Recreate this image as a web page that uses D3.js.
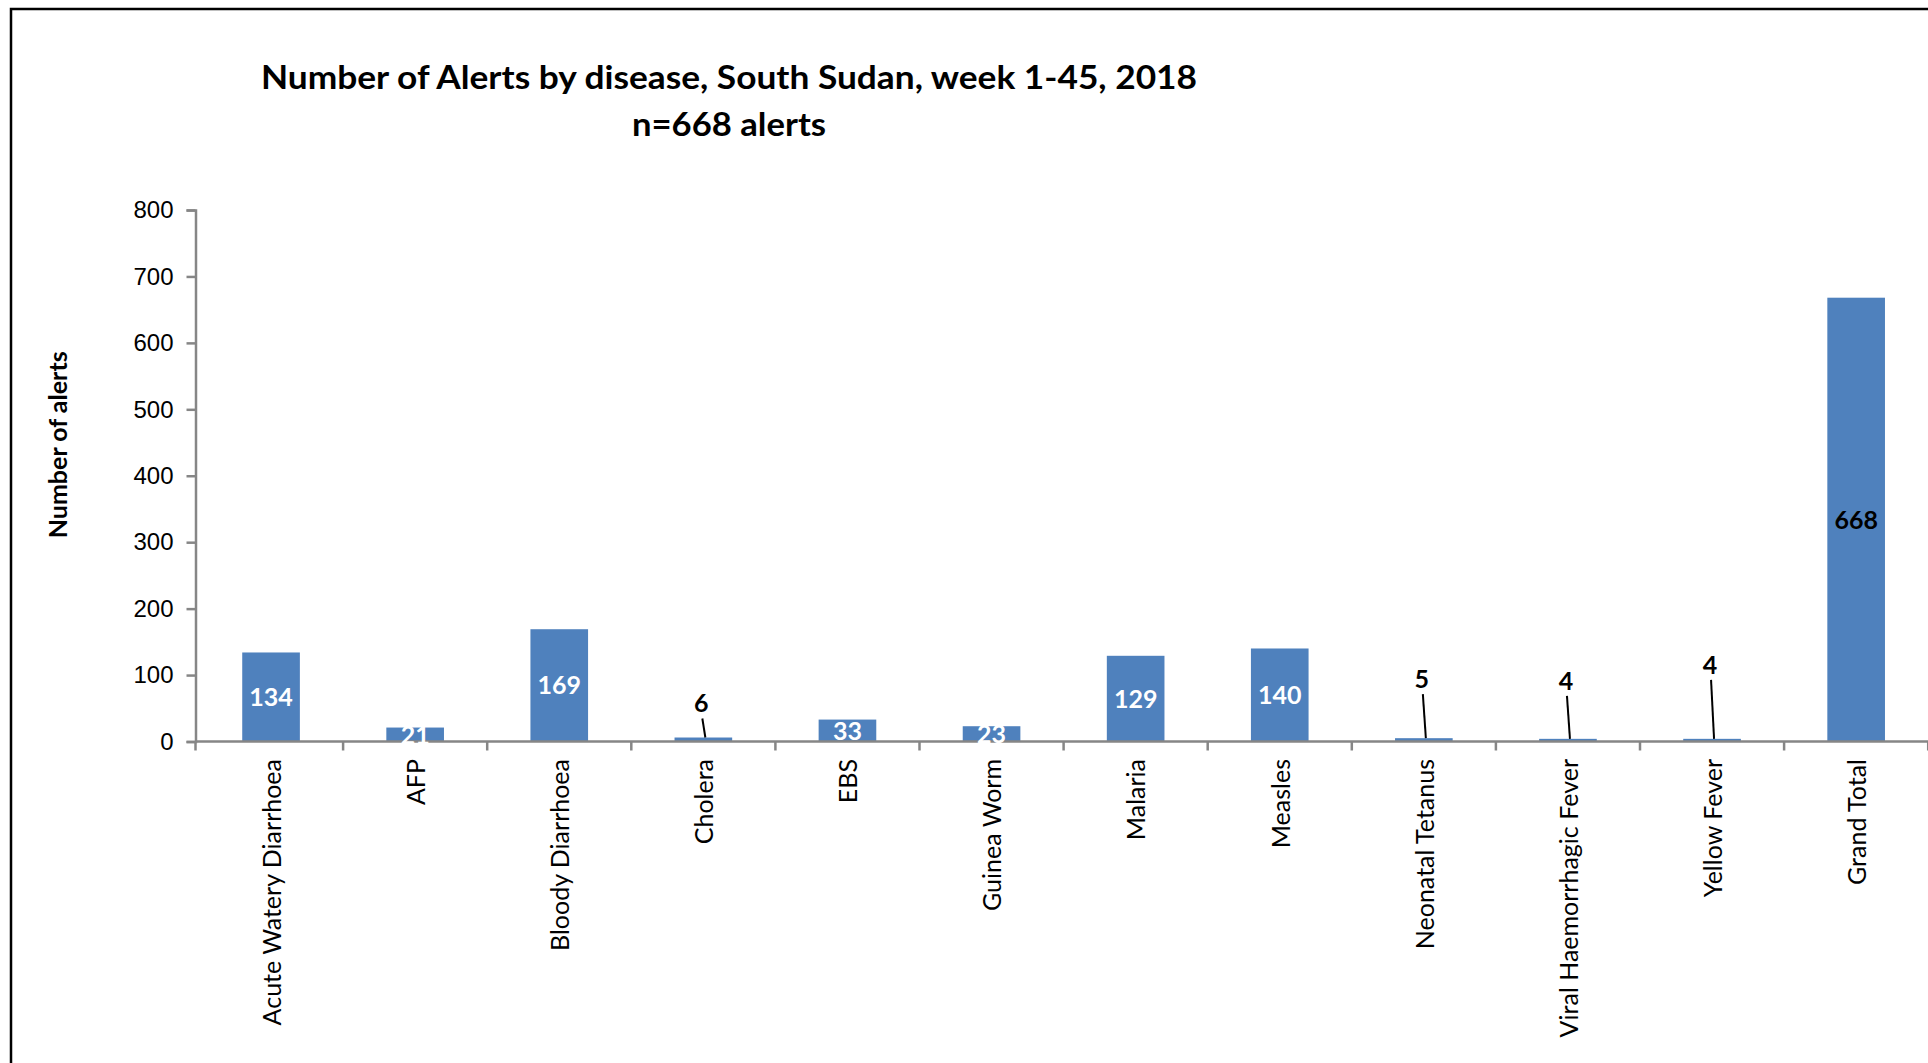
<!DOCTYPE html>
<html lang="en">
<head>
    <meta charset="UTF-8">
    <title>Number of Alerts by disease, South Sudan</title>
    <script src="https://d3js.org/d3.v7.min.js"></script>
    <style>
        body { margin: 0; background: #fff; }
        svg { display: block; font-family: Lato, "Open Sans", sans-serif; }
        .title { font-weight: bold; font-size: 32px; fill: #000; }
        .axis-label { font-weight: bold; font-size: 25px; }
        .y-tick { font-size: 24px; fill: #000; }
        .cat-label { font-size: 25px; fill: #000; }
        .value { font-weight: bold; font-size: 25px; }
    </style>
</head>
<body>
    <div id="chart"></div>

    <script>
        // Data
        const categories = [
            'Acute Watery Diarrhoea', 'AFP', 'Bloody Diarrhoea', 'Cholera', 'EBS',
            'Guinea Worm', 'Malaria', 'Measles', 'Neonatal Tetanus',
            'Viral Haemorrhagic Fever', 'Yellow Fever', 'Grand Total'
        ];
        const alerts = [134, 21, 169, 6, 33, 23, 129, 140, 5, 4, 4, 668];
        const yTicks = [0, 100, 200, 300, 400, 500, 600, 700, 800];
        const titleLines = ['Number of Alerts by disease, South Sudan, week 1-45, 2018', 'n=668 alerts'];
        const yLabel = 'Number of alerts';

        // small values get their label lifted above the bar, with a leader line (px)
        const calloutRise = {
            'Cholera': 34,
            'Neonatal Tetanus': 59,
            'Viral Haemorrhagic Fever': 58,
            'Yellow Fever': 74
        };

        const W = 1928, H = 1063;
        const plot = { left: 195.5, bandStart: 199, right: 1928.2, top: 210, bottom: 741.5 };

        const svg = d3.select('#chart').append('svg')
            .attr('width', W)
            .attr('height', H);

        // outer frame (only top and left edges are visible)
        svg.append('path')
            .attr('d', `M11,${H} V9 H${W}`)
            .attr('fill', 'none')
            .attr('stroke', '#000')
            .attr('stroke-width', 2.5);

        // title
        svg.append('text')
            .attr('class', 'title')
            .attr('x', 729).attr('y', 89)
            .attr('text-anchor', 'middle')
            .attr('textLength', 936)
            .attr('lengthAdjust', 'spacingAndGlyphs')
            .text(titleLines[0]);
        svg.append('text')
            .attr('class', 'title')
            .attr('x', 729).attr('y', 136)
            .attr('text-anchor', 'middle')
            .attr('textLength', 194)
            .attr('lengthAdjust', 'spacingAndGlyphs')
            .text(titleLines[1]);

        const x = d3.scaleBand()
            .domain(categories)
            .range([plot.bandStart, plot.right])
            .paddingInner(0.6)
            .paddingOuter(0.3);

        const y = d3.scaleLinear()
            .domain([0, 800])
            .range([plot.bottom, plot.top]);

        const axisColor = '#868686';

        // y axis
        const yAxis = svg.append('g')
            .attr('transform', `translate(${plot.left},0)`)
            .call(d3.axisLeft(y).tickValues(yTicks).tickSize(9).tickPadding(13));
        yAxis.select('.domain').attr('stroke', axisColor).attr('stroke-width', 2.5);
        yAxis.selectAll('.tick line').attr('stroke', axisColor).attr('stroke-width', 2.5);
        yAxis.selectAll('.tick text').attr('class', 'y-tick');

        svg.append('text')
            .attr('class', 'axis-label')
            .attr('transform', `translate(58,${(plot.top + plot.bottom) / 2 - 31}) rotate(-90)`)
            .attr('text-anchor', 'middle')
            .attr('dy', '0.35em')
            .text(yLabel);

        // bars
        svg.selectAll('.bar')
            .data(categories)
            .enter().append('rect')
            .attr('class', 'bar')
            .attr('x', d => x(d))
            .attr('y', (d, i) => y(alerts[i]))
            .attr('width', x.bandwidth())
            .attr('height', (d, i) => y(0) - y(alerts[i]))
            .attr('fill', '#4F81BD');

        // x axis (ticks at band boundaries)
        const step = x.step();
        const boundaries = d3.range(categories.length + 1).map(i => i === 0 ? plot.left : plot.bandStart + i * step);
        svg.append('line')
            .attr('x1', plot.left).attr('x2', W)
            .attr('y1', plot.bottom).attr('y2', plot.bottom)
            .attr('stroke', axisColor).attr('stroke-width', 2.5);
        svg.selectAll('.xtick')
            .data(boundaries)
            .enter().append('line')
            .attr('class', 'xtick')
            .attr('x1', d => d).attr('x2', d => d)
            .attr('y1', plot.bottom).attr('y2', plot.bottom + 9)
            .attr('stroke', axisColor).attr('stroke-width', 2.5);

        // category labels, rotated
        svg.selectAll('.cat-label')
            .data(categories)
            .enter().append('text')
            .attr('class', 'cat-label')
            .attr('transform', d => `translate(${x(d) + x.bandwidth() / 2 + 1},759) rotate(-90)`)
            .attr('text-anchor', 'end')
            .attr('dy', '0.35em')
            .text(d => d);

        // value labels
        categories.forEach((c, i) => {
            const v = alerts[i];
            const cx = x(c) + x.bandwidth() / 2;
            const rise = calloutRise[c];
            if (rise !== undefined) {
                const ly = y(v) - rise;
                svg.append('line')
                    .attr('x1', cx - 1).attr('y1', ly + 15)
                    .attr('x2', cx + 2).attr('y2', y(v))
                    .attr('stroke', '#000').attr('stroke-width', 2);
                svg.append('text')
                    .attr('class', 'value')
                    .attr('x', cx - 2).attr('y', ly)
                    .attr('dy', '0.35em')
                    .attr('text-anchor', 'middle')
                    .attr('fill', '#000')
                    .text(v);
            } else {
                svg.append('text')
                    .attr('class', 'value')
                    .attr('x', cx).attr('y', (y(v) + y(0)) / 2)
                    .attr('dy', '0.36em')
                    .attr('text-anchor', 'middle')
                    .attr('fill', c === 'Grand Total' ? '#000' : '#fff')
                    .text(v);
            }
        });
    </script>
</body>
</html>
